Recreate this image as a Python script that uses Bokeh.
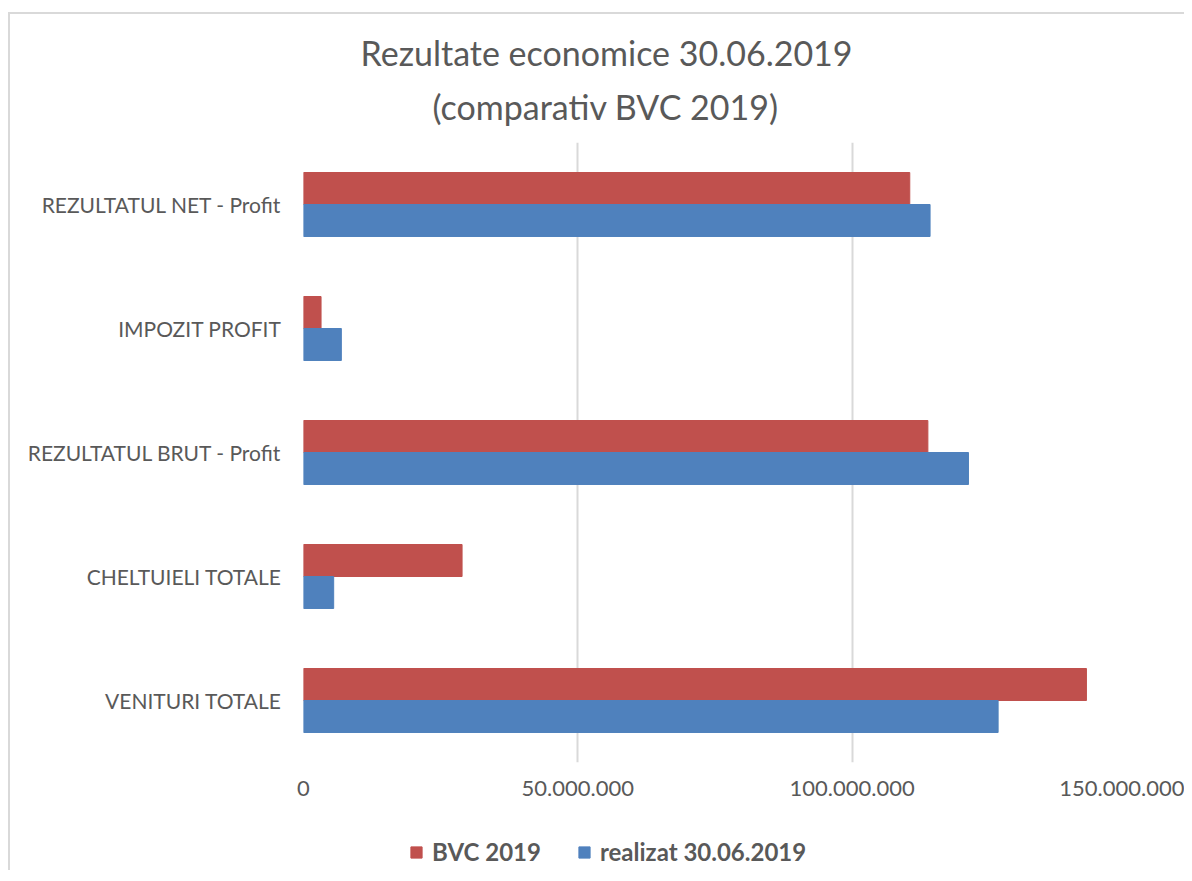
from bokeh.plotting import figure
from bokeh.layouts import column
from bokeh.models import (ColumnDataSource, FactorRange, Range1d, Legend, LegendItem,
                          FixedTicker, CustomJSTickFormatter, Title)
from bokeh.transform import dodge
from bokeh.embed import file_html
from bokeh.resources import INLINE

categories = ["VENITURI TOTALE", "CHELTUIELI TOTALE", "REZULTATUL BRUT - Profit",
              "IMPOZIT PROFIT", "REZULTATUL NET - Profit"]
bvc_2019 = [142.7e6, 28.9e6, 113.8e6, 3.2e6, 110.5e6]
realizat = [126.6e6, 5.5e6, 121.2e6, 6.9e6, 114.2e6]
x_ticks = [0, 50e6, 100e6, 150e6]
series_names = ["BVC 2019", "realizat 30.06.2019"]
title_lines = ["Rezultate economice 30.06.2019", "(comparativ BVC 2019)"]

TXT = "#595959"
FONT = "Lato"
RED = "#C0504D"
BLUE = "#4F81BD"

src = ColumnDataSource(dict(cat=categories, bvc=bvc_2019, real=realizat))

p = figure(frame_width=823, frame_height=620, output_backend="svg", toolbar_location=None,
           y_range=FactorRange(factors=categories, range_padding=0),
           x_range=Range1d(0, 150e6),
           min_border_left=293, min_border_right=58, min_border_top=128,
           min_border_bottom=50)
p.outline_line_color = None
p.background_fill_color = "white"
p.border_fill_color = "white"

p.hbar(y=dodge("cat", 0.129, range=p.y_range), left=0, right="bvc", height=0.258,
       source=src, fill_color=RED, line_color=RED)
p.hbar(y=dodge("cat", -0.129, range=p.y_range), left=0, right="real", height=0.258,
       source=src, fill_color=BLUE, line_color=BLUE)

p.xaxis.ticker = FixedTicker(ticks=x_ticks)
p.xaxis.formatter = CustomJSTickFormatter(code="""
return tick.toFixed(0).replace(/\\B(?=(\\d{3})+(?!\\d))/g, '.');
""")
for ax in (p.xaxis, p.yaxis):
    ax.axis_line_color = None
    ax.major_tick_line_color = None
    ax.minor_tick_line_color = None
    ax.major_tick_out = 0
    ax.major_tick_in = 0
    ax.major_label_text_color = TXT
    ax.major_label_text_font = FONT
p.xaxis.major_label_text_font_size = "22px"
p.yaxis.major_label_text_font_size = "21px"
p.xaxis.major_label_standoff = 18
p.yaxis.major_label_standoff = 22

p.xgrid.grid_line_color = "#D9D9D9"
p.xgrid.grid_line_width = 2
p.ygrid.grid_line_color = None

t2 = Title(text=title_lines[1], align="left", offset=129, text_font=FONT,
           text_font_size="34px", text_font_style="normal", text_color=TXT, standoff=31)
t1 = Title(text=title_lines[0], align="left", offset=57, text_font=FONT,
           text_font_size="34px", text_font_style="normal", text_color=TXT, standoff=-9)
p.add_layout(t2, "above")
p.add_layout(t1, "above")

# legend strip below the chart (its bars lie outside its visible x range)
lf = figure(frame_width=1174, frame_height=58, output_backend="svg", toolbar_location=None,
            y_range=FactorRange(factors=categories), x_range=Range1d(-2, -1),
            min_border=0, x_axis_location=None, y_axis_location=None)
lf.outline_line_color = None
lf.grid.grid_line_color = None
lr1 = lf.hbar(y="cat", left=0, right="bvc", height=0.5, source=src,
              fill_color=RED, line_color=RED)
lr2 = lf.hbar(y="cat", left=0, right="real", height=0.5, source=src,
              fill_color=BLUE, line_color=BLUE)
legend = Legend(items=[LegendItem(label=series_names[0], renderers=[lr1]),
                       LegendItem(label=series_names[1], renderers=[lr2])],
                orientation="horizontal", location=(399, 4),
                glyph_width=14, glyph_height=14, spacing=36,
                label_text_font=FONT, label_text_font_size="24px",
                label_text_font_style="bold", label_text_color=TXT,
                border_line_color=None, background_fill_alpha=0,
                margin=0, padding=4, label_standoff=9)
lf.add_layout(legend, "center")

layout = column(p, lf, spacing=0,
                styles={"border-top": "2px solid #D9D9D9", "border-left": "2px solid #D9D9D9",
                        "margin-top": "12px", "margin-left": "8px"})

open("out.html", "w").write(file_html(layout, INLINE))
